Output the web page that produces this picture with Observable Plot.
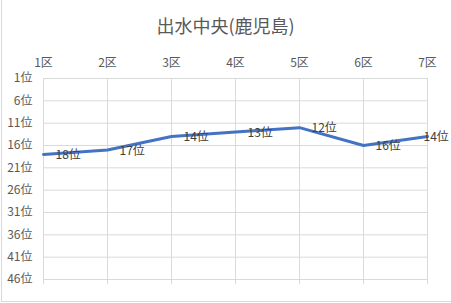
<!DOCTYPE html>
<html>
<head>
<meta charset="utf-8">
<script src="https://cdn.jsdelivr.net/npm/d3@7"></script>
<script src="https://cdn.jsdelivr.net/npm/@observablehq/plot@0.6"></script>
<style>
  html, body { margin: 0; padding: 0; background: #fff; }
  #wrap { position: relative; width: 451px; height: 303px; overflow: hidden; font-family: "Noto Sans CJK JP", "Noto Sans", sans-serif; }
  #title { position: absolute; left: 0; top: 12px; width: 451px; text-align: center; font-size: 18px; line-height: 26px; color: #595959; }
  #chart { position: absolute; left: 0; top: 0; }
  #bl { position: absolute; left: 1px; top: 0; width: 1px; height: 302px; background: #d9d9d9; }
  #bb { position: absolute; left: 1px; top: 301px; width: 450px; height: 1px; background: #d9d9d9; }
</style>
</head>
<body>
<div id="wrap">
  <div id="chart"></div>
  <div id="title">出水中央(鹿児島)</div>
  <div id="bl"></div>
  <div id="bb"></div>
</div>
<script>
const sections = ["1区", "2区", "3区", "4区", "5区", "6区", "7区"];
const ranks = [18, 17, 14, 13, 12, 16, 14];
const rankTicks = [1, 6, 11, 16, 21, 26, 31, 36, 41, 46];
const title = "出水中央(鹿児島)";

const data = sections.map((s, i) => ({section: s, rank: ranks[i]}));
const last = data.length - 1;

const chart = Plot.plot({
  width: 451,
  height: 303,
  marginTop: 78,
  marginBottom: 24,
  marginLeft: 43,
  marginRight: 24,
  style: {fontFamily: '"Noto Sans CJK JP", "Noto Sans", sans-serif', background: "transparent"},
  x: {type: "point", domain: sections, padding: 0},
  y: {domain: [1, 46], reverse: true},
  marks: [
    Plot.gridY(rankTicks, {stroke: "#d9d9d9", strokeOpacity: 1, strokeWidth: 1}),
    Plot.gridX(sections, {stroke: "#d9d9d9", strokeOpacity: 1, strokeWidth: 1}),
    Plot.axisX({anchor: "bottom", tickSize: 5, tickFormat: null, stroke: "#d9d9d9", label: null}),
    Plot.axisX({anchor: "top", tickSize: 0, tickPadding: 12, fontSize: 12, fill: "#595959", label: null}),
    Plot.axisY(rankTicks, {anchor: "left", tickSize: 0, tickPadding: 11, fontSize: 12, fill: "#595959", tickFormat: d => d + "位", label: null}),
    Plot.line(data, {x: "section", y: "rank", stroke: "#4472C4", strokeWidth: 3, strokeLinejoin: "round", strokeLinecap: "round"}),
    Plot.text(data.slice(0, last), {x: "section", y: "rank", text: d => d.rank + "位", textAnchor: "start", dx: 12, dy: 1, fontSize: 12, fill: "#404040"}),
    Plot.text(data.slice(last), {x: "section", y: "rank", text: d => d.rank + "位", textAnchor: "start", dx: -4, dy: 1, fontSize: 12, fill: "#404040"})
  ]
});
document.getElementById("chart").appendChild(chart);
</script>
</body>
</html>
